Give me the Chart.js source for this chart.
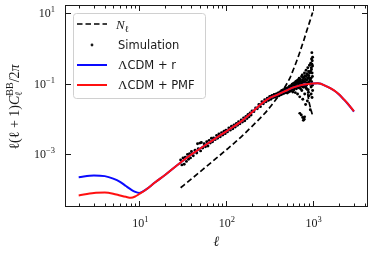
<!DOCTYPE html>
<html>
<head>
<meta charset="utf-8">
<script src="https://cdn.jsdelivr.net/npm/chart.js@4.4.0/dist/chart.umd.min.js"></script>
<style>
  html, body { margin: 0; padding: 0; background: #fff; }
  canvas { display: block; }
</style>
</head>
<body>
<canvas id="bbChart" width="374" height="254"></canvas>
<script>
// multipoles and spectra
const ellTheory = [2, 3, 4, 5, 6, 7, 8, 9, 10, 12, 15, 20, 30, 40, 50, 70, 100, 150, 200, 250, 300, 400, 500, 600, 700, 800, 900, 1000, 1150, 1450, 1750, 2000, 2250, 2500, 3000];
const clPMF = [6.46e-5, 7.59e-5, 7.76e-5, 7.24e-5, 6.46e-5, 5.89e-5, 5.50e-5, 6.03e-5, 7.08e-5, 9.55e-5, 1.48e-4, 2.51e-4, 5.62e-4, 9.55e-4, 1.38e-3, 2.40e-3, 4.27e-3, 8.32e-3, 1.51e-2, 2.51e-2, 3.55e-2, 4.90e-2, 6.31e-2, 7.76e-2, 8.71e-2, 9.33e-2, 9.70e-2, 0.0995, 0.101, 0.0832, 0.0646, 0.0501, 0.0372, 0.0282, 0.0162];
const clR = [2.14e-4, 2.40e-4, 2.29e-4, 1.95e-4, 1.58e-4, 1.20e-4, 9.55e-5, 8.13e-5, 7.59e-5, 9.55e-5, 1.48e-4, 2.51e-4, 5.62e-4, 9.55e-4, 1.38e-3, 2.40e-3, 4.27e-3, 8.32e-3, 1.51e-2, 2.51e-2, 3.55e-2, 4.90e-2, 6.31e-2, 7.76e-2, 8.71e-2, 9.33e-2, 9.70e-2, 0.0995, 0.101, 0.0830, 0.0642, 0.0497, 0.0368, 0.0278, 0.0158];

const ellNoise = [30, 40, 50, 70, 100, 150, 200, 250, 300, 350, 400, 450, 500, 550, 600, 650, 700, 750, 800, 850, 900, 950, 1000];
const noiseNl = [1.07e-4, 1.91e-4, 3.02e-4, 6.03e-4, 1.26e-3, 3.02e-3, 6.03e-3, 1.05e-2, 1.70e-2, 2.75e-2, 4.17e-2, 6.17e-2, 9.55e-2, 0.148, 0.251, 0.417, 0.692, 1.15, 1.86, 3.02, 4.68, 7.08, 10.5];
const ellNoiseTail = [830, 870, 910, 950, 990];
const noiseTail = [0.089, 0.0562, 0.0295, 0.0191, 0.0132];

const ellSim = [30, 31, 32, 33, 34, 35, 36, 37, 38, 39, 40, 42, 44, 46, 47, 48, 50, 51, 52, 54, 56, 58, 60, 62, 64, 66, 68, 70, 72, 75, 78, 80, 83, 86, 89, 92, 95, 98,
  100, 104, 108, 112, 116, 120, 124, 128, 132, 136, 140, 145, 150, 155, 160, 165, 170, 175, 180, 185, 190, 195, 200, 210, 220, 230, 240, 250, 260, 270, 280, 290,
  300, 305, 310, 315, 320, 325, 330, 335, 340, 345, 350, 355, 360, 365, 370, 375, 380, 385, 390, 395, 400, 405, 410, 415, 420, 425, 430, 435, 440, 445, 450, 455,
  460, 465, 470, 475, 480, 485, 490, 495, 500, 505, 510, 515, 520, 525, 530, 535, 540, 545, 550, 555, 560, 565, 570, 575, 580, 585, 590, 595,
  600, 605, 610, 615, 620, 625, 630, 635, 640, 645, 650, 655, 660, 665, 670, 675, 680, 685, 690, 695, 700, 702, 705, 710, 712, 715, 720, 725, 730, 735, 740, 742,
  745, 750, 755, 760, 765, 768, 770, 772, 775, 780, 782, 785, 790, 795, 800, 805, 808, 810, 812, 815, 820, 825, 830, 835, 840, 845, 850, 852, 855, 860, 865,
  870, 875, 880, 882, 885, 890, 895, 900, 905, 910, 912, 915, 920, 925, 930, 935, 940, 942, 945, 950, 955, 960, 962, 965, 970, 972, 975, 980, 982, 985, 987,
  990, 993, 995, 998, 999, 1000];
const clSim = [6.61e-4, 4.79e-4, 7.59e-4, 5.01e-4, 7.94e-4, 6.03e-4, 9.55e-4, 6.92e-4, 1.00e-3, 7.59e-4, 1.15e-3, 8.71e-4, 1.26e-3, 1.05e-3, 1.91e-3, 1.38e-3,
  2.00e-3, 1.20e-3, 2.09e-3, 1.45e-3, 1.91e-3, 1.58e-3, 2.19e-3, 1.66e-3, 2.40e-3, 2.00e-3, 2.75e-3, 2.19e-3, 2.82e-3, 2.51e-3, 3.31e-3, 2.75e-3, 3.63e-3,
  3.02e-3, 3.98e-3, 3.39e-3, 4.37e-3, 3.72e-3,
  4.68e-3, 4.17e-3, 5.37e-3, 4.68e-3, 6.03e-3, 5.13e-3, 6.61e-3, 5.75e-3, 7.24e-3, 6.46e-3, 8.13e-3, 7.08e-3, 9.12e-3, 7.94e-3, 1.05e-2, 8.71e-3, 1.15e-2,
  1.00e-2, 1.32e-2, 1.12e-2, 1.45e-2, 1.26e-2, 1.66e-2, 1.58e-2, 2.00e-2, 1.91e-2, 2.51e-2, 2.19e-2, 3.02e-2, 2.63e-2, 3.47e-2, 3.02e-2,
  3.80e-2, 3.39e-2, 3.31e-2, 3.89e-2, 4.27e-2, 3.80e-2, 3.55e-2, 4.37e-2, 4.57e-2, 4.07e-2, 3.98e-2, 4.68e-2, 4.90e-2, 4.27e-2, 4.07e-2, 4.90e-2, 5.01e-2,
  4.57e-2, 4.37e-2, 5.13e-2, 5.37e-2, 4.79e-2, 4.47e-2, 5.37e-2, 5.75e-2, 5.01e-2, 4.79e-2, 5.75e-2, 6.31e-2, 5.37e-2, 5.01e-2, 6.03e-2,
  6.61e-2, 5.62e-2, 5.25e-2, 6.46e-2, 7.08e-2, 5.89e-2, 5.50e-2, 6.76e-2, 7.41e-2, 6.31e-2, 5.37e-2, 6.92e-2, 7.59e-2, 6.61e-2, 5.75e-2, 7.41e-2, 8.32e-2,
  6.92e-2, 6.03e-2, 7.76e-2, 8.71e-2, 7.24e-2, 6.31e-2, 8.13e-2, 9.55e-2, 7.08e-2, 5.75e-2, 8.51e-2,
  0.100, 8.32e-2, 6.61e-2, 9.12e-2, 0.105, 7.59e-2, 5.50e-2, 9.55e-2, 0.115, 8.71e-2, 7.08e-2, 0.105, 0.120, 7.94e-2, 5.01e-2, 0.100, 0.126, 0.112, 7.59e-2,
  8.91e-2, 0.141, 7.94e-2, 0.105, 4.17e-2, 1.41e-2, 0.120, 0.132, 7.08e-2, 8.32e-2, 0.112, 1.26e-2, 9.55e-2,
  0.158, 6.31e-2, 0.100, 0.174, 0.126, 1.07e-2, 3.55e-2, 0.110, 7.94e-2, 0.145, 8.91e-3, 0.120, 7.94e-2, 0.151, 9.55e-3, 0.200, 1.12e-2, 5.01e-2, 8.91e-2,
  0.112, 0.166, 0.132, 2.51e-2, 7.59e-2, 0.240, 0.158, 8.91e-2, 7.08e-2, 0.126, 0.191, 0.105,
  3.16e-2, 0.178, 0.282, 0.100, 0.141, 6.61e-2, 5.62e-2, 0.219, 0.166, 4.47e-2, 0.141, 0.112, 0.331, 0.200, 0.126, 9.55e-2, 1.78e-2, 0.126, 0.224, 0.380,
  0.141, 7.94e-2, 5.01e-2, 0.282, 0.251, 0.501, 0.112, 0.759, 0.355, 3.98e-2, 0.200,
  0.447, 8.91e-2, 0.158, 0.316, 0.562, 6.31e-2];

const xMajor = [10, 100, 1000];
const xMajorExp = ['1', '2', '3'];
const yMajor = [10, 0.1, 0.001];
const yMajorExp = ['1', '\u22121', '\u22123'];

const SERIF = '"Liberation Serif", "DejaVu Serif", serif';
const SANS = '"DejaVu Sans", sans-serif';

function pairs(xs, ys) {
  return xs.map((x, i) => ({ x: x, y: ys[i] }));
}

// draw a run of text pieces (for sub/superscripts)
function drawRich(ctx, pieces, x, y, align) {
  let total = 0;
  pieces.forEach(p => {
    ctx.font = (p.style || '') + ' ' + p.size + 'px ' + (p.fam || SERIF);
    p.w = ctx.measureText(p.t).width;
    if (!p.noAdv) total += p.w;
  });
  let cx = x;
  if (align === 'center') cx = x - total / 2;
  if (align === 'right') cx = x - total;
  ctx.textAlign = 'left';
  ctx.textBaseline = 'alphabetic';
  pieces.forEach(p => {
    ctx.font = (p.style || '') + ' ' + p.size + 'px ' + (p.fam || SERIF);
    ctx.fillText(p.t, cx, y + (p.dy || 0));
    if (!p.noAdv) cx += p.w;
  });
}

function powLabel(exp) {
  return [{ t: '10', size: 12 }, { t: exp, size: 8.5, dy: -5 }];
}

const framePlugin = {
  id: 'frame',
  afterDraw(chart) {
    const ctx = chart.ctx;
    const a = chart.chartArea;
    const xs = chart.scales.x, ys = chart.scales.y;
    ctx.save();
    ctx.strokeStyle = '#1a1a1a';
    ctx.fillStyle = '#1a1a1a';
    ctx.lineWidth = 1;
    const L = Math.round(a.left) + 0.5, R = Math.round(a.right) - 0.5;
    const T = Math.round(a.top) + 0.5, B = Math.round(a.bottom) - 0.5;
    ctx.strokeRect(L, T, R - L, B - T);

    // inward ticks, x axis: majors and minors
    ctx.beginPath();
    for (let dec = 1; dec <= 1000; dec *= 10) {
      for (let m = 1; m <= 9; m++) {
        const v = m * dec;
        if (v < xs.min || v > xs.max) continue;
        const px = Math.round(xs.getPixelForValue(v)) + 0.5;
        const len = m === 1 ? 5.5 : 3;
        ctx.moveTo(px, B); ctx.lineTo(px, B - len);
        ctx.moveTo(px, T); ctx.lineTo(px, T + len);
      }
    }
    yMajor.forEach(v => {
      const py = Math.round(ys.getPixelForValue(v)) + 0.5;
      ctx.moveTo(L, py); ctx.lineTo(L + 5.5, py);
      ctx.moveTo(R, py); ctx.lineTo(R - 5.5, py);
    });
    ctx.stroke();

    // tick labels
    xMajor.forEach((v, i) => {
      drawRich(ctx, powLabel(xMajorExp[i]), xs.getPixelForValue(v) + 1, 227, 'center');
    });
    yMajor.forEach((v, i) => {
      drawRich(ctx, powLabel(yMajorExp[i]), 55, ys.getPixelForValue(v) + 4, 'right');
    });

    // axis titles
    drawRich(ctx, [{ t: '\u2113', size: 14, style: 'italic' }], (a.left + a.right) / 2, 246, 'center');
    ctx.save();
    ctx.translate(19, 107);
    ctx.rotate(-Math.PI / 2);
    drawRich(ctx, [
      { t: '\u2113(\u2113 + 1)', size: 14 },
      { t: 'C', size: 14, style: 'italic' },
      { t: '\u2113', size: 10, dy: 3, noAdv: true },
      { t: 'BB', size: 10, dy: -6 },
      { t: '/2', size: 14 },
      { t: '\u03c0', size: 14, style: 'italic' }
    ], 0, 0, 'center');
    ctx.restore();

    // legend
    const bx = 73, by = 13, bw = 132, bh = 85;
    ctx.beginPath();
    ctx.roundRect(bx + 0.5, by + 0.5, bw, bh, 3);
    ctx.fillStyle = 'rgba(255,255,255,0.8)';
    ctx.fill();
    ctx.strokeStyle = '#d0d0d0';
    ctx.stroke();

    const ds = chart.data.datasets;
    const hx0 = 77, hx1 = 107, tx = 118;
    const rows = [24, 45, 65, 85];
    // N_ell
    ctx.save();
    ctx.strokeStyle = ds[0].borderColor;
    ctx.lineWidth = ds[0].borderWidth;
    ctx.setLineDash(ds[0].borderDash);
    ctx.beginPath(); ctx.moveTo(hx0, rows[0]); ctx.lineTo(hx1, rows[0]); ctx.stroke();
    ctx.restore();
    ctx.fillStyle = '#1a1a1a';
    drawRich(ctx, [{ t: 'N', size: 13, style: 'italic' }, { t: '\u2113', size: 9, dy: 3 }], tx - 2, rows[0] + 4.5, 'left');
    // simulation
    ctx.beginPath(); ctx.arc(92, rows[1], 1.4, 0, 2 * Math.PI); ctx.fill();
    drawRich(ctx, [{ t: 'Simulation', size: 11.5, fam: SANS }], tx, rows[1] + 4.2, 'left');
    // models
    [[ds[3], rows[2], 'CDM + r'], [ds[4], rows[3], 'CDM + PMF']].forEach(([d, ry, txt]) => {
      ctx.strokeStyle = d.borderColor;
      ctx.lineWidth = d.borderWidth;
      ctx.beginPath(); ctx.moveTo(hx0, ry); ctx.lineTo(hx1, ry); ctx.stroke();
      ctx.fillStyle = '#1a1a1a';
      drawRich(ctx, [{ t: '\u039b', size: 13 }, { t: txt, size: 11.5, fam: SANS }], tx, ry + 4.2, 'left');
    });
    ctx.restore();
  }
};

new Chart(document.getElementById('bbChart'), {
  type: 'scatter',
  data: {
    datasets: [
      { label: 'N_ell', data: pairs(ellNoise, noiseNl), showLine: true, borderColor: '#000', borderWidth: 1.7,
        borderDash: [5.5, 3], pointRadius: 0, cubicInterpolationMode: 'monotone', order: 4 },
      { label: 'N_ell tail', data: pairs(ellNoiseTail, noiseTail), showLine: true, borderColor: '#000', borderWidth: 1.7,
        borderDash: [5.5, 3], pointRadius: 0, cubicInterpolationMode: 'monotone', order: 4 },
      { label: 'Simulation', data: pairs(ellSim, clSim), showLine: false, pointRadius: 1.45, pointBorderWidth: 0,
        backgroundColor: '#000', borderColor: '#000', order: 3 },
      { label: '\u039bCDM+r', data: pairs(ellTheory, clR), showLine: true, borderColor: '#0a0aff', borderWidth: 2,
        pointRadius: 0, cubicInterpolationMode: 'monotone', order: 2 },
      { label: '\u039bCDM+PMF', data: pairs(ellTheory, clPMF), showLine: true, borderColor: '#ff1010', borderWidth: 2,
        pointRadius: 0, cubicInterpolationMode: 'monotone', order: 1 }
    ]
  },
  options: {
    responsive: false,
    animation: false,
    devicePixelRatio: 1,
    layout: { padding: { left: 65, right: 6, top: 5, bottom: 47 } },
    scales: {
      x: { type: 'logarithmic', min: 1.39, max: 4355, display: false },
      y: { type: 'logarithmic', min: 3.02e-5, max: 17.3, display: false }
    },
    plugins: { legend: { display: false }, tooltip: { enabled: false } }
  },
  plugins: [framePlugin]
});
</script>
</body>
</html>
